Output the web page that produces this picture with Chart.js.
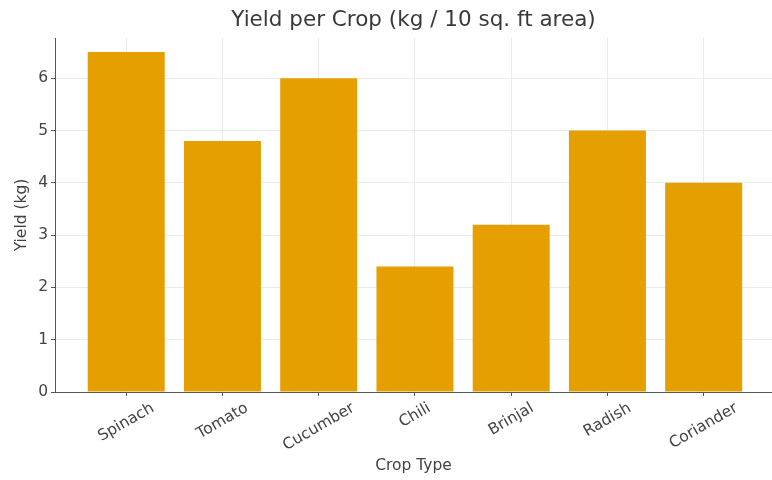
<!DOCTYPE html>
<html>
<head>
<meta charset="utf-8">
<script src="https://cdn.jsdelivr.net/npm/chart.js@4/dist/chart.umd.min.js"></script>
<style>
html,body{margin:0;padding:0;background:#fff;}
#wrap{width:772px;height:480px;}
</style>
</head>
<body>
<div id="wrap"><canvas id="c" width="772" height="480"></canvas></div>
<script>
const categories = ["Spinach", "Tomato", "Cucumber", "Chili", "Brinjal", "Radish", "Coriander"];
const yieldKg = [6.5, 4.8, 6.0, 2.4, 3.2, 5.0, 4.0];
const yTicks = [0, 1, 2, 3, 4, 5, 6];
const titleText = "Yield per Crop (kg / 10 sq. ft area)";
const xTitle = "Crop Type";
const yTitle = "Yield (kg)";

const FONT = "'DejaVu Sans', sans-serif";
const TICK_SIZE = 15.5;
const LABEL_SIZE = 15.5;
const TITLE_SIZE = 21.5;
const TEXT_COLOR = '#444';

const textPlugin = {
  id: 'textPlugin',
  afterDraw(chart) {
    const {ctx, chartArea} = chart;
    const xs = chart.scales.x;
    const cx = (chartArea.left + chartArea.right) / 2;
    const cy = (chartArea.top + chartArea.bottom) / 2;
    ctx.save();
    ctx.textAlign = "center";
    ctx.textBaseline = "middle";
    // title centred over the plot area
    ctx.font = TITLE_SIZE + "px " + FONT;
    ctx.fillStyle = "#3a3a3a";
    ctx.fillText(titleText, cx, 20);
    // x axis title
    ctx.font = LABEL_SIZE + "px " + FONT;
    ctx.fillStyle = TEXT_COLOR;
    ctx.fillText(xTitle, cx, 466);
    // y axis title
    ctx.save();
    ctx.translate(22, cy);
    ctx.rotate(-Math.PI / 2);
    ctx.fillText(yTitle, 0, 0);
    ctx.restore();
    // rotated category labels, centred under their ticks
    ctx.font = TICK_SIZE + "px " + FONT;
    const ang = 30 * Math.PI / 180;
    const h = TICK_SIZE * 1.05;
    const top = chartArea.bottom + 8;
    categories.forEach((label, i) => {
      const x = xs.getPixelForValue(i);
      const w = ctx.measureText(label).width;
      const H = w * Math.sin(ang) + h * Math.cos(ang);
      ctx.save();
      ctx.translate(x, top + H / 2);
      ctx.rotate(-ang);
      ctx.fillText(label, 0, 0);
      ctx.restore();
    });
    ctx.restore();
  }
};

new Chart(document.getElementById('c'), {
  type: 'bar',
  data: {
    datasets: [{
      data: categories.map((c, i) => ({x: i, y: yieldKg[i]})),
      backgroundColor: '#E69F00',
      borderWidth: 0,
      barPercentage: 0.8,
      categoryPercentage: 1.0
    }]
  },
  plugins: [textPlugin],
  options: {
    responsive: false,
    animation: false,
    devicePixelRatio: 1,
    layout: {padding: {top: 38, left: 0, right: 0, bottom: 0}},
    plugins: {legend: {display: false}, tooltip: {enabled: false}, title: {display: false}},
    scales: {
      x: {
        type: 'linear',
        offset: false,
        min: -0.74,
        max: 6.71,
        afterBuildTicks(scale) { scale.ticks = categories.map((c, i) => ({value: i})); },
        afterFit(scale) { scale.height = 88; },
        ticks: {
          callback: (v) => categories[v] !== undefined ? categories[v] : '',
          minRotation: 0, maxRotation: 0, autoSkip: false,
          font: {family: FONT, size: 10}, color: 'rgba(0,0,0,0)', padding: 2
        },
        grid: {offset: false, color: '#ebebeb', lineWidth: 1, tickColor: '#555', tickLength: 4, drawOnChartArea: true},
        border: {color: '#555', width: 1},
        title: {display: false}
      },
      y: {
        type: 'linear',
        min: 0,
        max: 6.77,
        afterBuildTicks(scale) { scale.ticks = yTicks.map(v => ({value: v})); },
        afterFit(scale) { scale.width = 55; },
        ticks: {font: {family: FONT, size: TICK_SIZE}, color: TEXT_COLOR, padding: 3},
        grid: {color: '#ebebeb', lineWidth: 1, tickColor: '#555', tickLength: 4},
        border: {color: '#555', width: 1},
        title: {display: false}
      }
    }
  }
});
</script>
</body>
</html>
